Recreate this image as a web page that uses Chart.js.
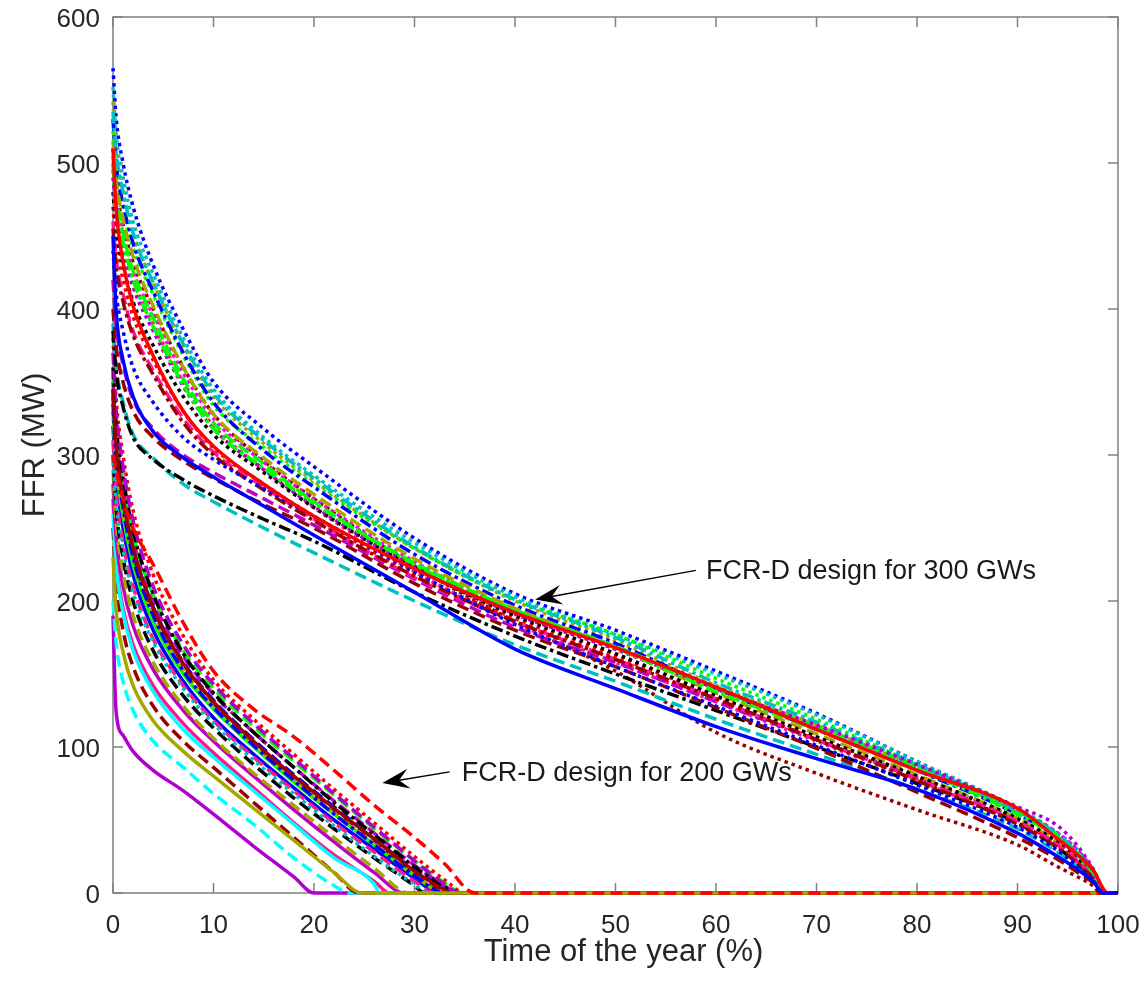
<!DOCTYPE html>
<html><head><meta charset="utf-8">
<script src="https://cdn.jsdelivr.net/npm/chart.js@4.4.1/dist/chart.umd.min.js"></script>
<style>html,body{margin:0;padding:0;background:#fff}#wrap{width:1147px;height:981px;position:relative}</style>
</head><body><div id="wrap"><canvas id="c" width="1147" height="981"></canvas></div>
<script>
// ---------- axis ticks ----------
const xTicks = [0, 10, 20, 30, 40, 50, 60, 70, 80, 90, 100];
const yTicks = [0, 100, 200, 300, 400, 500, 600];
const xTitle = "Time of the year (%)";
const yTitle = "FFR (MW)";

// ---------- FCR-D design for 300 GWs (duration curves) ----------
const upperX = [0, 0.3, 1, 2, 4, 7, 10, 15, 20, 30, 40, 50, 60, 70, 80, 90, 94, 96, 97.5];
const upperY = [
  [565, 532, 500, 470, 430, 386, 350, 318, 292, 243, 205, 180, 152, 123, 90, 57, 41, 29, 16],
  [552, 520, 490, 460, 424, 380, 345, 312, 286, 240, 203, 177, 150, 122, 90, 58, 41, 29, 16],
  [542, 510, 480, 452, 418, 375, 340, 308, 282, 236, 200, 173, 142, 115, 86, 55, 38, 26, 14],
  [510, 485, 458, 432, 400, 360, 328, 296, 270, 224, 186, 152, 110, 82, 57, 33, 18, 11, 5],
  [522, 495, 468, 442, 410, 368, 334, 305, 280, 236, 201, 177, 147, 119, 88, 57, 40, 28, 15],
  [500, 478, 452, 426, 396, 356, 325, 295, 270, 227, 193, 167, 140, 114, 86, 56, 41, 29, 16],
  [495, 470, 445, 420, 390, 350, 320, 290, 264, 220, 185, 158, 131, 104, 77, 48, 32, 21, 10],
  [530, 500, 472, 445, 412, 370, 336, 303, 278, 232, 197, 171, 140, 112, 84, 54, 38, 25, 14],
  [390, 362, 336, 314, 298, 280, 268, 250, 233, 200, 170, 145, 119, 95, 71, 44, 28, 18, 9],
  [385, 358, 333, 312, 297, 283, 272, 256, 241, 206, 176, 150, 125, 100, 75, 48, 31, 20, 10],
  [400, 375, 350, 330, 312, 296, 284, 266, 250, 212, 180, 155, 127, 99, 69, 38, 23, 14, 7],
  [420, 390, 362, 338, 318, 300, 288, 270, 252, 215, 182, 158, 131, 105, 79, 50, 33, 21, 11],
  [470, 445, 420, 395, 365, 330, 305, 280, 258, 218, 188, 162, 135, 107, 79, 50, 33, 22, 11],
  [505, 480, 452, 426, 394, 352, 322, 294, 268, 226, 194, 169, 140, 114, 87, 56, 40, 27, 15],
  [515, 490, 462, 436, 402, 360, 328, 298, 273, 229, 195, 168, 137, 109, 81, 51, 35, 24, 13],
  [480, 455, 430, 405, 375, 340, 314, 288, 264, 223, 190, 164, 135, 107, 80, 51, 35, 24, 12],
  [460, 435, 410, 385, 358, 325, 302, 278, 256, 216, 186, 160, 133, 105, 78, 49, 33, 22, 11],
  [535, 508, 480, 452, 418, 376, 342, 310, 284, 237, 201, 175, 144, 117, 88, 56, 40, 27, 15],
  [490, 465, 440, 415, 385, 347, 318, 290, 265, 223, 191, 167, 140, 115, 88, 59, 46, 32, 17],
  [455, 430, 405, 382, 355, 322, 300, 276, 255, 217, 186, 160, 133, 105, 77, 47, 31, 20, 10],
  [498, 472, 446, 420, 388, 348, 318, 291, 267, 225, 193, 168, 138, 112, 85, 54, 38, 26, 14],
  [440, 412, 385, 360, 336, 312, 297, 277, 258, 220, 184, 155, 128, 101, 74, 45, 29, 18, 9],
  [510, 470, 432, 402, 368, 330, 306, 280, 258, 222, 192, 168, 141, 112, 84, 58, 37, 26, 16],
  [450, 400, 365, 340, 316, 298, 285, 265, 245, 206, 167, 140, 114, 92, 71, 41, 25, 16, 8]
];
const upperEnd = [98.7, 98.8, 98.7, 98.3, 98.8, 98.8, 98.5, 98.7, 98.4, 98.5, 98.3, 98.5,
                  98.5, 98.8, 98.7, 98.6, 98.6, 98.8, 98.9, 98.5, 98.7, 98.4, 99.0, 98.6];

// ---------- FCR-D design for 200 GWs (duration curves) ----------
const lowerX = [0, 0.3, 1, 2, 4, 7, 10, 14, 18, 22, 26, 30, 33];
const lowerY = [
  [190, 125, 108, 97, 84, 70, 54, 32, 11],
  [200, 172, 145, 125, 104, 86, 68, 47, 24, 5],
  [250, 215, 180, 155, 128, 104, 86, 62, 38, 14],
  [270, 230, 195, 170, 142, 116, 96, 72, 48, 26, 8],
  [260, 225, 192, 166, 138, 112, 93, 70, 47, 24, 6],
  [280, 245, 210, 183, 153, 125, 104, 80, 57, 35, 14],
  [290, 255, 220, 190, 158, 128, 106, 82, 60, 38, 17],
  [300, 265, 230, 200, 166, 135, 113, 88, 65, 44, 24, 5],
  [320, 285, 250, 218, 180, 145, 120, 95, 72, 50, 30, 10],
  [330, 295, 258, 225, 186, 150, 126, 100, 76, 54, 33, 12],
  [340, 305, 268, 233, 192, 155, 130, 103, 79, 57, 36, 14],
  [310, 275, 240, 210, 174, 142, 118, 93, 70, 48, 28, 8],
  [345, 310, 272, 237, 196, 158, 132, 105, 81, 59, 37, 16, 3],
  [300, 268, 235, 206, 172, 140, 116, 91, 68, 46, 25, 6],
  [350, 315, 278, 242, 200, 162, 136, 110, 86, 63, 41, 19, 5],
  [355, 320, 282, 246, 204, 166, 140, 114, 90, 67, 44, 22, 7],
  [380, 340, 300, 262, 218, 176, 146, 119, 95, 71, 48, 25, 9],
  [360, 322, 285, 248, 205, 164, 137, 110, 86, 62, 40, 18, 4],
  [330, 295, 260, 228, 190, 153, 128, 102, 78, 55, 34, 13],
  [370, 332, 292, 255, 210, 170, 143, 116, 92, 68, 45, 22, 6],
  [335, 300, 264, 230, 190, 152, 127, 101, 77, 54, 33, 12],
  [345, 308, 270, 236, 195, 157, 131, 104, 80, 58, 37, 15, 2],
  [230, 195, 165, 142, 118, 97, 80, 58, 36, 14],
  [300, 290, 270, 250, 225, 185, 152, 126, 107, 84, 60, 38, 20]
];
const lowerEnd = [20, 23.5, 24.5, 27.5, 26.5, 29, 29.5, 31, 32.5, 33, 33.5, 32,
                  33.8, 31.5, 34.3, 34.8, 35, 34, 33, 34.5, 33, 33.6, 24.8, 36];

// ---------- annotations ----------
const annoText = ["FCR-D design for 300 GWs", "FCR-D design for 200 GWs"];
const annoTextX = [59.0, 34.7];
const annoTextY = [220, 82];
const arrowFromX = [58.0, 33.5];
const arrowFromY = [221, 83];
const arrowToX = [42.0, 26.8];
const arrowToY = [201, 75.3];

// ---------- styles ----------
const C = {b:'#0000ff', r:'#ff0000', g:'#00ff00', c:'#00bfbf', cb:'#00ffff', m:'#bf00bf', mb:'#ff00ff',
           y:'#a6a600', k:'#000000', dr:'#990000', p:'#ff1493', pu:'#b000d0'};
const DASH = {s:[], d:[12,6], o:[3.5,4], dd:[12,4,3.5,4]};
const upperStyle = [
  ['b','o'],['c','o'],['y','o'],['dr','o'],['g','o'],['mb','o'],['p','o'],['b','dd'],
  ['c','d'],['k','dd'],['dr','d'],['m','d'],['r','o'],['g','d'],['y','d'],['k','o'],
  ['p','d'],['c','dd'],['pu','o'],['dr','dd'],['g','dd'],['b','o'],['r','s'],['b','s']
];
const lowerStyle = [
  ['pu','s'],['cb','d'],['dr','d'],['p','s'],['cb','s'],['m','s'],['y','d'],
  ['k','d'],['b','s'],['g','s'],['dr','d'],['p','d'],['b','d'],['c','o'],['m','d'],
  ['g','d'],['r','o'],['k','dd'],['y','o'],['pu','d'],['b','dd'],['dr','s'],['y','s'],['r','d']
];

function buildPoints(xs, ys, end) {
  const pts = [];
  for (let i = 0; i < ys.length; i++) pts.push({x: xs[i], y: ys[i]});
  pts.push({x: end, y: 0});
  pts.push({x: 100, y: 0});
  return pts;
}
// plot order: lower group first, then upper group; later-plotted lines lie on top
const plotted = [];
lowerY.forEach((ys, i) => {
  const st = lowerStyle[i];
  plotted.push({data: buildPoints(lowerX, ys, lowerEnd[i]), borderColor: C[st[0]], borderDash: DASH[st[1]], clip: false});
});
upperY.forEach((ys, i) => {
  const st = upperStyle[i];
  plotted.push({data: buildPoints(upperX, ys, upperEnd[i]), borderColor: C[st[0]], borderDash: DASH[st[1]], clip: false});
});
// Chart.js paints dataset 0 last (on top), so reverse to keep plot order
const datasets = plotted.slice().reverse();

const FONT = '"Liberation Sans", Arial, Helvetica, sans-serif';
const AX = '#808080';
const TXT = '#262626';

const decor = {
  id: 'decor',
  beforeDatasetsDraw(chart) {
    const {ctx, chartArea: a, scales: {x, y}} = chart;
    ctx.save();
    ctx.strokeStyle = AX; ctx.lineWidth = 1.5;
    ctx.strokeRect(a.left, a.top, a.right - a.left, a.bottom - a.top);
    ctx.beginPath();
    const tl = 10;
    xTicks.forEach(v => {
      const px = x.getPixelForValue(v);
      ctx.moveTo(px, a.bottom); ctx.lineTo(px, a.bottom - tl);
      ctx.moveTo(px, a.top); ctx.lineTo(px, a.top + tl);
    });
    yTicks.forEach(v => {
      const py = y.getPixelForValue(v);
      ctx.moveTo(a.left, py); ctx.lineTo(a.left + tl, py);
      ctx.moveTo(a.right, py); ctx.lineTo(a.right - tl, py);
    });
    ctx.stroke();
    ctx.fillStyle = TXT;
    ctx.font = '26px ' + FONT;
    ctx.textBaseline = 'alphabetic';
    ctx.textAlign = 'center';
    xTicks.forEach(v => ctx.fillText(String(v), x.getPixelForValue(v), a.bottom + 40));
    ctx.textAlign = 'right';
    yTicks.forEach(v => ctx.fillText(String(v), a.left - 13, y.getPixelForValue(v) + 9.5));
    ctx.restore();
  },
  afterDatasetsDraw(chart) {
    const {ctx, scales: {x, y}} = chart;
    ctx.save();
    for (let i = 0; i < annoText.length; i++) {
      const x1 = x.getPixelForValue(arrowFromX[i]), y1 = y.getPixelForValue(arrowFromY[i]);
      const x2 = x.getPixelForValue(arrowToX[i]), y2 = y.getPixelForValue(arrowToY[i]);
      const ang = Math.atan2(y2 - y1, x2 - x1);
      const L = 27, W = 10, notch = 17;
      const ux = Math.cos(ang), uy = Math.sin(ang);
      const nx = -uy, ny = ux;
      ctx.strokeStyle = '#000'; ctx.lineWidth = 1.4;
      ctx.beginPath(); ctx.moveTo(x1, y1);
      ctx.lineTo(x2 - ux * notch, y2 - uy * notch); ctx.stroke();
      ctx.fillStyle = '#000';
      ctx.beginPath();
      ctx.moveTo(x2, y2);
      ctx.lineTo(x2 - ux * L + nx * W, y2 - uy * L + ny * W);
      ctx.lineTo(x2 - ux * notch, y2 - uy * notch);
      ctx.lineTo(x2 - ux * L - nx * W, y2 - uy * L - ny * W);
      ctx.closePath(); ctx.fill();
      ctx.fillStyle = '#1a1a1a';
      ctx.font = '27px ' + FONT;
      ctx.textAlign = 'left'; ctx.textBaseline = 'middle';
      ctx.fillText(annoText[i], x.getPixelForValue(annoTextX[i]), y.getPixelForValue(annoTextY[i]));
    }
    ctx.restore();
  },
  afterDraw(chart) {
    const {ctx, chartArea: a} = chart;
    ctx.save();
    ctx.fillStyle = TXT;
    ctx.font = '31px ' + FONT;
    ctx.textAlign = 'center'; ctx.textBaseline = 'alphabetic';
    ctx.fillText(xTitle, (a.left + a.right) / 2 + 8, a.bottom + 68);
    ctx.textBaseline = 'middle';
    ctx.translate(35, (a.top + a.bottom) / 2 - 10);
    ctx.rotate(-Math.PI / 2);
    ctx.fillText(yTitle, 0, 0);
    ctx.restore();
  }
};

new Chart(document.getElementById('c'), {
  type: 'line',
  data: {datasets},
  options: {
    responsive: false, animation: false, devicePixelRatio: 1,
    parsing: false, normalized: true,
    layout: {padding: {left: 0, right: 29, top: 17, bottom: 0}},
    elements: {
      point: {radius: 0, hoverRadius: 0},
      line: {borderWidth: 3.5, cubicInterpolationMode: 'monotone', borderCapStyle: 'butt', fill: false}
    },
    plugins: {legend: {display: false}, tooltip: {enabled: false}},
    events: [],
    scales: {
      x: {
        type: 'linear', min: 0, max: 100,
        afterBuildTicks: s => { s.ticks = xTicks.map(v => ({value: v})); },
        afterFit: s => { s.height = 88; },
        grid: {display: false, drawTicks: false}, border: {display: false},
        ticks: {display: false}
      },
      y: {
        type: 'linear', min: 0, max: 600,
        afterBuildTicks: s => { s.ticks = yTicks.map(v => ({value: v})); },
        afterFit: s => { s.width = 113; },
        grid: {display: false, drawTicks: false}, border: {display: false},
        ticks: {display: false}
      }
    }
  },
  plugins: [decor]
});
</script></body></html>
